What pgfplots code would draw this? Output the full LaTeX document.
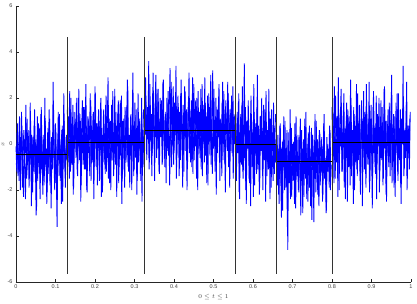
\documentclass[border=0pt]{standalone}
\usepackage{pgfplots}
\pgfplotsset{compat=1.18}
\usepackage{pgfplotstable}
\usepackage{fontspec}
\setmainfont{Liberation Sans}
\pgfplotstableread[row sep=\\]{y\\
-0.1\\ -1.2\\ 0.9\\ -0.8\\ -1.6\\ 0.3\\ -0.5\\ 1.4\\ -1.9\\ -0.2\\
0.6\\ -1.1\\ -2.4\\ 0.1\\ 1.1\\ -0.7\\ -0.3\\ -1.5\\ 1.8\\ -0.9\\
0.4\\ -2.1\\ -0.6\\ 0.8\\ -1.3\\ 0.2\\ -2.9\\ 1.2\\ -0.4\\ -1.0\\
0.7\\ -1.7\\ 1.6\\ -0.5\\ -2.2\\ 0.0\\ -1.4\\ 1.0\\ -0.8\\ -2.6\\
0.5\\ -0.2\\ 1.5\\ -1.8\\ -0.9\\ 0.3\\ -1.1\\ 2.7\\ -0.6\\ -2.0\\
0.9\\ -1.3\\ -3.6\\ 0.2\\ -0.7\\ 1.3\\ -1.6\\ -0.4\\ 0.6\\ -2.5\\
-0.1\\ 1.0\\ -1.2\\ -0.8\\ 0.4\\
}\segA
\pgfplotstableread[row sep=\\]{y\\
-0.9\\ 0.5\\ -1.4\\ -0.2\\ 1.2\\ -2.0\\ -0.6\\ 0.8\\ -1.0\\ -2.3\\
0.2\\ -0.4\\ 1.7\\ -1.5\\ -0.8\\ 0.6\\ -1.9\\ -0.1\\ 1.0\\ -2.7\\
-0.5\\ 0.3\\ -1.2\\ 1.5\\ -0.7\\ -3.1\\ 0.0\\ -1.6\\ 0.9\\ -0.3\\
-2.4\\ 1.3\\ -1.1\\ -0.6\\ 0.4\\ -1.8\\ 2.0\\ -0.9\\ -0.2\\ -2.1\\
0.7\\ -1.3\\ 1.1\\ -0.5\\ -2.8\\ 0.1\\ -1.0\\ 1.6\\ -0.4\\ -1.7\\
0.5\\ -2.2\\ -0.8\\ 1.4\\ -1.4\\ 0.2\\ -0.6\\ -2.6\\ 0.8\\ -1.1\\
2.2\\ -0.3\\ -1.9\\ 0.3\\ -0.7\\
}\segAb
\pgfplotstableread[row sep=\\]{y\\
1.5\\ -0.8\\ 0.4\\ 2.3\\ -1.2\\ 0.9\\ -0.3\\ 1.7\\ -1.9\\ 0.2\\
1.1\\ -0.6\\ 2.0\\ -1.4\\ 0.7\\ -0.1\\ 1.3\\ -2.5\\ 0.5\\ 1.9\\
-0.9\\ 0.0\\ 1.6\\ -1.1\\ 0.8\\ -2.1\\ 1.2\\ -0.4\\ 0.3\\ 2.2\\
-1.6\\ 0.6\\ -0.7\\ 1.4\\ -1.0\\ 2.5\\ -0.2\\ 0.9\\ -1.8\\ 0.1\\
1.0\\ -0.5\\ 1.8\\ -2.3\\ 0.4\\ -0.8\\ 1.5\\ 0.2\\ -1.3\\ 2.1\\
-0.6\\ 0.7\\ -1.5\\ 1.1\\ 0.0\\ -2.0\\ 1.7\\ -0.3\\ 0.5\\ -1.1\\
2.4\\ -0.9\\ 0.8\\ -0.1\\ 1.3\\ -1.7\\ 0.6\\ 1.9\\ -0.4\\ -2.6\\
1.0\\ 0.3\\ -1.2\\ 1.6\\ -0.7\\ 0.9\\ 2.8\\ -1.0\\ 0.2\\ -1.9\\
1.2\\ -0.5\\ 0.7\\ 3.1\\ -1.4\\ 0.4\\ -0.2\\ 1.5\\ -2.2\\ 0.8\\
-0.8\\ 1.1\\ 0.0\\ -1.6\\ 2.0\\ -0.3\\ 0.6\\ -1.0\\
}\segB
\pgfplotstableread[row sep=\\]{y\\
-0.6\\ 1.2\\ -1.5\\ 0.3\\ 2.0\\ -0.9\\ 0.7\\ -2.2\\ 1.4\\ -0.2\\
0.5\\ 1.8\\ -1.3\\ 0.0\\ 2.4\\ -0.7\\ 1.0\\ -1.8\\ 0.4\\ -0.4\\
1.6\\ -1.1\\ 0.8\\ 2.6\\ -2.0\\ 0.2\\ 1.1\\ -0.5\\ -1.4\\ 1.9\\
0.6\\ -0.8\\ 1.3\\ -2.4\\ 0.1\\ 2.2\\ -1.0\\ 0.9\\ -0.3\\ 1.5\\
-1.6\\ 0.4\\ 2.0\\ -0.6\\ -2.1\\ 1.2\\ 0.0\\ -0.9\\ 1.7\\ -1.2\\
0.7\\ 2.9\\ -0.4\\ -1.7\\ 1.0\\ 0.3\\ -0.7\\ 2.3\\ -1.4\\ 0.5\\
-0.1\\ 1.4\\ -2.3\\ 0.8\\ 1.9\\ -1.0\\ 0.2\\ -0.5\\ 2.1\\ -1.5\\
0.6\\ 1.1\\ -1.9\\ 0.0\\ 1.6\\ -0.8\\ 2.5\\ -1.2\\ 0.4\\ -0.3\\
1.3\\ -2.0\\ 0.9\\ 0.1\\ -1.1\\ 1.8\\ -0.6\\ 0.7\\ -1.6\\ 2.2\\
-0.2\\ 0.5\\ -1.3\\ 1.0\\ -2.5\\ 0.3\\ 1.5\\
}\segBb
\pgfplotstableread[row sep=\\]{y\\
1.4\\ 2.9\\ -0.3\\ 1.0\\ 0.2\\ 3.6\\ -0.8\\ 1.7\\ 0.5\\ -1.4\\
2.2\\ 0.9\\ -0.1\\ 1.5\\ 3.0\\ -0.6\\ 0.7\\ 2.4\\ -1.2\\ 1.1\\
0.3\\ 1.9\\ -0.9\\ 2.7\\ 0.6\\ -0.2\\ 1.3\\ -1.7\\ 2.0\\ 0.8\\
-0.5\\ 1.6\\ 3.3\\ 0.1\\ -1.0\\ 1.2\\ 2.5\\ -0.4\\ 0.9\\ 1.8\\
-1.5\\ 0.4\\ 2.1\\ 0.0\\ 1.4\\ -0.7\\ 2.8\\ 0.6\\ -1.9\\ 1.0\\
0.2\\ 2.3\\ -0.3\\ 1.5\\ -1.1\\ 0.7\\ 3.1\\ 0.3\\ -0.8\\ 1.9\\
0.5\\ -1.3\\ 2.6\\ 1.1\\ -0.1\\ 0.8\\ 2.0\\ -2.0\\ 1.3\\ 0.4\\
-0.6\\ 2.4\\ 0.9\\ -1.4\\ 1.7\\ 0.0\\ 2.9\\ -0.5\\ 1.2\\ 0.6\\
-1.8\\ 2.2\\ 0.1\\ 1.6\\ -0.9\\ 0.8\\ 3.2\\ -0.2\\ 1.0\\ -1.2\\
2.0\\ 0.5\\ -0.4\\ 1.4\\ 2.6\\ -1.6\\ 0.9\\ 0.3\\ 1.8\\ -0.7\\
2.3\\ 0.2\\ -2.1\\ 1.1\\ 0.7\\ 2.7\\ -1.0\\ 0.4\\ 1.5\\ -0.3\\
2.1\\ 0.8\\ -1.5\\ 1.3\\ 0.0\\
}\segC
\pgfplotstableread[row sep=\\]{y\\
0.4\\ 2.1\\ -0.7\\ 1.6\\ 0.9\\ -1.1\\ 2.6\\ 0.1\\ 1.3\\ -0.4\\
3.1\\ 0.7\\ -1.6\\ 1.9\\ 0.3\\ 2.4\\ -0.2\\ 1.0\\ -1.3\\ 2.0\\
0.6\\ 1.5\\ -0.8\\ 2.8\\ 0.2\\ -1.0\\ 1.4\\ 0.8\\ -0.3\\ 2.3\\
1.1\\ -1.8\\ 0.5\\ 2.7\\ -0.1\\ 1.2\\ -0.9\\ 1.8\\ 0.4\\ 3.4\\
-0.6\\ 0.9\\ 1.6\\ -1.4\\ 0.0\\ 2.2\\ 1.0\\ -0.5\\ 1.7\\ -1.2\\
2.5\\ 0.3\\ 0.8\\ -2.0\\ 1.3\\ 2.0\\ -0.4\\ 0.6\\ 1.5\\ -1.0\\
2.9\\ 0.2\\ -0.7\\ 1.1\\ 1.9\\ -1.5\\ 0.7\\ 2.3\\ -0.2\\ 1.4\\
0.0\\ -1.1\\ 2.6\\ 0.5\\ 1.2\\ -0.8\\ 1.8\\ 0.9\\ -1.7\\ 2.1\\
0.1\\ 1.6\\ -0.5\\ 3.0\\ 0.4\\ -1.3\\ 1.0\\ 2.4\\ -0.1\\ 0.7\\
-2.2\\ 1.5\\ 0.3\\ 2.0\\ -0.6\\ 1.1\\ 0.8\\ -1.4\\ 2.7\\ 0.0\\
1.3\\ -0.9\\ 1.9\\ 0.6\\ -0.3\\ 2.2\\ 1.0\\ -1.9\\ 0.5\\ 1.7\\
-0.4\\ 2.5\\ 0.2\\ 1.2\\
}\segCb
\pgfplotstableread[row sep=\\]{y\\
0.9\\ -1.6\\ 1.4\\ -0.3\\ 2.2\\ -2.4\\ 0.5\\ -0.8\\ 1.7\\ -1.2\\
0.2\\ 3.5\\ -0.6\\ -2.0\\ 1.0\\ -0.1\\ 1.9\\ -1.5\\ 0.6\\ -2.7\\
1.3\\ 0.0\\ -0.9\\ 2.6\\ -1.8\\ 0.4\\ -0.4\\ 1.6\\ -1.1\\ 0.8\\
-2.2\\ 1.2\\ -0.2\\ 2.0\\ -1.4\\ 0.3\\ -0.7\\ 1.5\\ -2.5\\ 0.7\\
0.1\\ -1.0\\ 2.4\\ -0.5\\ 1.1\\ -1.9\\ 0.5\\ -0.3\\ 1.8\\ -1.3\\
0.2\\ -0.8\\
}\segD
\pgfplotstableread[row sep=\\]{y\\
-1.1\\ 0.6\\ -0.4\\ 1.8\\ -2.1\\ 0.2\\ 1.3\\ -0.9\\ 2.5\\ -1.5\\
0.0\\ -0.6\\ 1.6\\ -2.6\\ 0.8\\ -0.2\\ 1.1\\ -1.7\\ 0.4\\ 2.1\\
-1.0\\ 0.5\\ -2.3\\ 1.4\\ -0.5\\ 0.9\\ -1.3\\ 3.0\\ -0.8\\ 0.1\\
-1.9\\ 1.2\\ -0.3\\ 0.7\\ -2.0\\ 1.7\\ -0.7\\ 0.3\\ 2.3\\ -1.4\\
0.6\\ -1.1\\ 1.0\\ -2.4\\ 0.2\\ 1.5\\ -0.6\\ -1.6\\ 0.8\\ -0.1\\
1.3\\
}\segDb
\pgfplotstableread[row sep=\\]{y\\
0.3\\ -1.8\\ -0.2\\ -2.6\\ 0.8\\ -1.1\\ -3.2\\ 0.1\\ -0.9\\ 1.2\\
-2.0\\ -0.5\\ -1.4\\ 0.6\\ -4.6\\ -0.3\\ -1.7\\ 1.5\\ -1.0\\ -2.3\\
0.0\\ -0.7\\ -1.5\\ 0.9\\ -2.8\\ -0.4\\ -1.2\\ 0.4\\ -2.1\\ -0.1\\
1.1\\ -1.6\\ -0.8\\ -3.0\\ 0.2\\ -1.3\\ -0.6\\ 1.4\\ -2.4\\ -0.9\\
0.5\\ -1.9\\ -0.2\\ -2.7\\ 0.7\\ -1.1\\ -0.4\\ -3.4\\ 0.1\\ -1.5\\
1.0\\ -0.7\\ -2.2\\ -0.3\\ 0.6\\ -1.8\\ -1.0\\ 0.3\\ -2.5\\ -0.5\\
1.3\\ -1.4\\ -0.8\\ -2.9\\ 0.0\\ -1.2\\ -0.6\\ 0.8\\ -2.0\\ -0.9\\
}\segE
\pgfplotstableread[row sep=\\]{y\\
-1.3\\ 0.4\\ -2.2\\ -0.6\\ 0.9\\ -1.7\\ -0.2\\ -2.9\\ 0.2\\ -1.0\\
1.0\\ -1.9\\ -0.5\\ -3.6\\ 0.5\\ -1.2\\ -0.3\\ -2.4\\ 0.7\\ -0.8\\
-1.6\\ 0.1\\ -2.6\\ -0.4\\ 1.2\\ -1.4\\ -0.9\\ -2.0\\ 0.3\\ -0.6\\
-3.1\\ 0.6\\ -1.1\\ -0.2\\ -2.3\\ 1.1\\ -1.5\\ -0.7\\ 0.0\\ -2.5\\
-0.3\\ 0.8\\ -1.8\\ -1.0\\ -3.3\\ 0.4\\ -0.5\\ -1.3\\ 1.3\\ -2.1\\
-0.8\\ 0.2\\ -1.6\\ -2.7\\ 0.5\\ -0.4\\ -1.2\\ -0.1\\ -2.2\\ 0.9\\
-1.5\\ -0.6\\ -3.0\\ 0.3\\ -1.0\\ -0.2\\ -1.9\\ 0.6\\ -1.4\\
}\segEb
\pgfplotstableread[row sep=\\]{y\\
1.6\\ -0.9\\ 0.5\\ 2.5\\ -1.5\\ 0.2\\ 1.2\\ -0.4\\ 2.9\\ -2.0\\
0.7\\ -0.1\\ 1.8\\ -1.2\\ 0.4\\ 2.2\\ -0.7\\ -2.4\\ 1.0\\ 0.0\\
1.5\\ -1.0\\ 0.8\\ -1.8\\ 2.0\\ -0.3\\ 0.6\\ -2.6\\ 1.3\\ 0.1\\
-0.8\\ 2.6\\ -1.4\\ 0.9\\ -0.2\\ 1.7\\ -2.2\\ 0.3\\ 1.1\\ -0.6\\
2.3\\ -1.1\\ 0.5\\ -1.9\\ 1.4\\ 0.0\\ -0.5\\ 2.7\\ -1.6\\ 0.8\\
0.2\\ -2.8\\ 1.6\\ -0.4\\ 0.7\\ -1.3\\ 2.1\\ -0.9\\ 0.4\\ 1.2\\
-2.1\\ 0.1\\ 1.9\\ -0.7\\ 0.6\\ -1.5\\ 2.4\\ -0.2\\ 1.0\\ -2.5\\
0.3\\ 1.5\\ -1.0\\ 0.9\\ -0.3\\ 2.0\\ -1.7\\ 0.5\\ 1.3\\ -0.8\\
-2.3\\ 1.8\\ 0.2\\ -1.2\\ 2.2\\ -0.5\\ 0.7\\ -1.9\\ 1.1\\ 0.0\\
3.4\\ -1.4\\ 0.6\\ -0.6\\ 1.7\\ -2.0\\ 0.8\\ 0.3\\ -1.1\\ 1.4\\
}\segF
\pgfplotstableread[row sep=\\]{y\\
-0.5\\ 1.3\\ -1.7\\ 0.6\\ 2.1\\ -0.8\\ 0.2\\ -2.3\\ 1.5\\ -0.3\\
0.9\\ 2.4\\ -1.2\\ 0.0\\ 1.1\\ -1.9\\ 0.7\\ -0.6\\ 1.8\\ -2.5\\
0.4\\ 1.2\\ -0.9\\ 2.8\\ -1.4\\ 0.1\\ -0.4\\ 1.6\\ -2.0\\ 0.8\\
0.3\\ -1.1\\ 2.2\\ -0.7\\ 1.0\\ -1.6\\ 0.5\\ 1.9\\ -2.7\\ 0.2\\
-0.2\\ 1.4\\ -1.3\\ 2.6\\ 0.0\\ -0.9\\ 1.1\\ -2.1\\ 0.6\\ 1.7\\
-0.5\\ -1.5\\ 2.3\\ 0.3\\ -1.0\\ 0.9\\ -2.4\\ 1.3\\ -0.1\\ 2.0\\
-1.2\\ 0.5\\ -0.6\\ 1.6\\ -1.8\\ 0.8\\ 2.5\\ -0.3\\ -2.2\\ 1.0\\
0.2\\ -0.8\\ 1.8\\ -1.4\\ 0.4\\ 3.0\\ -1.0\\ 0.7\\ -1.9\\ 1.2\\
-0.4\\ 0.1\\ 2.2\\ -1.6\\ 0.6\\ -0.7\\ 1.5\\ -2.6\\ 0.9\\ 0.0\\
1.9\\ -1.1\\ 0.3\\ -0.2\\ 2.7\\ -1.5\\ 0.8\\ -0.6\\ 1.1\\
}\segFb
\begin{document}
\begin{tikzpicture}[x=1pt,y=1pt]
\useasboundingbox (-16,-22) rectangle (401,282);
\begin{axis}[
  at={(0,0)}, anchor=south west,
  scale only axis, width=395pt, height=276pt,
  xmin=0, xmax=1, ymin=-6, ymax=6,
  axis x line*=bottom, axis y line*=left,
  axis line style={black!85, line width=0.6pt, -},
  xtick={0,0.1,...,1}, ytick={-6,-4,...,6},
  xticklabels={0,0.1,0.2,0.3,0.4,0.5,0.6,0.7,0.8,0.9,1},
  tick align=inside, major tick length=3pt,
  tick style={black!85, line width=0.5pt},
  ticklabel style={font=\fontsize{5.5}{6}\selectfont, text=black!75},
  /pgf/number format/assume math mode=true,
  xticklabel style={yshift=1pt},
  xlabel={$0\leq t\leq 1$},
  ylabel={$x$},
  label style={font=\fontsize{6}{7}\selectfont, text=black!75},
  xlabel style={at={(axis description cs:0.5,-0.054)}, anchor=center},
  ylabel style={at={(axis description cs:-0.033,0.5)}, anchor=center},
  clip=false,
]
\pgfplotsset{noise/.style={color={rgb,255:red,0;green,0;blue,255}, line width=0.85pt, line join=bevel}}
\addplot[noise] table[x expr=0.000+\coordindex*0.002, y index=0] {\segA};
\addplot[noise] table[x expr=0.001+\coordindex*0.002, y index=0] {\segAb};
\addplot[noise] table[x expr=0.130+\coordindex*0.002, y index=0] {\segB};
\addplot[noise] table[x expr=0.131+\coordindex*0.002, y index=0] {\segBb};
\addplot[noise] table[x expr=0.326+\coordindex*0.002, y index=0] {\segC};
\addplot[noise] table[x expr=0.327+\coordindex*0.002, y index=0] {\segCb};
\addplot[noise] table[x expr=0.556+\coordindex*0.002, y index=0] {\segD};
\addplot[noise] table[x expr=0.557+\coordindex*0.002, y index=0] {\segDb};
\addplot[noise] table[x expr=0.660+\coordindex*0.002, y index=0] {\segE};
\addplot[noise] table[x expr=0.661+\coordindex*0.002, y index=0] {\segEb};
\addplot[noise] table[x expr=0.800+\coordindex*0.002, y index=0] {\segF};
\addplot[noise] table[x expr=0.801+\coordindex*0.002, y index=0] {\segFb};
\addplot[black, line width=0.7pt] coordinates {(0,-0.47) (0.13,-0.47)};
\addplot[black, line width=0.7pt] coordinates {(0.13,0.06) (0.325,0.06)};
\addplot[black, line width=0.7pt] coordinates {(0.325,0.58) (0.555,0.58)};
\addplot[black, line width=0.7pt] coordinates {(0.555,-0.01) (0.66,-0.01)};
\addplot[black, line width=0.7pt] coordinates {(0.66,-0.74) (0.8,-0.74)};
\addplot[black, line width=0.7pt] coordinates {(0.8,0.06) (0.998,0.06)};
\addplot[black!80, line width=0.6pt] coordinates {(0.13,-5.65) (0.13,4.65)};
\addplot[black!80, line width=0.6pt] coordinates {(0.325,-5.65) (0.325,4.65)};
\addplot[black!80, line width=0.6pt] coordinates {(0.555,-5.65) (0.555,4.65)};
\addplot[black!80, line width=0.6pt] coordinates {(0.66,-5.65) (0.66,4.65)};
\addplot[black!80, line width=0.6pt] coordinates {(0.8,-5.65) (0.8,4.65)};
\end{axis}
\end{tikzpicture}
\end{document}
